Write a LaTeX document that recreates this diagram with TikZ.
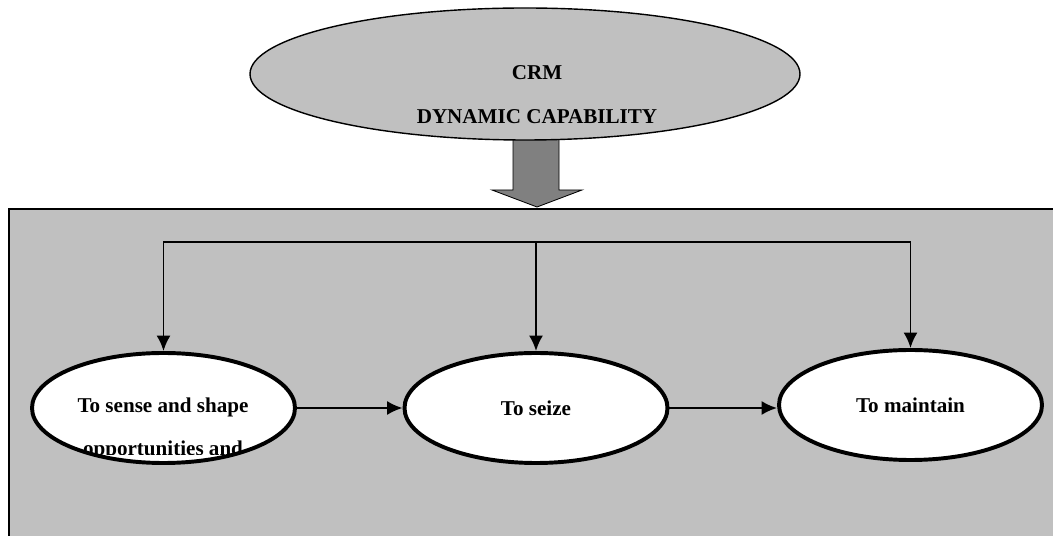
\documentclass[tikz,border=0pt]{standalone}
\usepackage{fontspec}
\setmainfont{Liberation Serif}
\usetikzlibrary{shapes.geometric,arrows.meta}
\definecolor{panel}{HTML}{C0C0C0}
\definecolor{darkpanel}{HTML}{808080}
\begin{document}
\begin{tikzpicture}[x=0.025cm,y=-0.025cm]
\def\px{0.025cm}
\def\rx{131.5}
\def\ry{55}
\tikzset{
base/.style={font=\fontsize{15}{31}\selectfont\bfseries,align=center},
bubble/.style={base,ellipse,draw,line width=2.8pt,fill=white,minimum width=2*\rx*\px,minimum height=2*\ry*\px,inner sep=0pt},
every path/.style={>={Latex[length=11pt,width=10pt]}},
link/.style={line width=1.4pt}}
\useasboundingbox (0,0) rectangle (1053,536);
\fill[panel,draw=black,line width=1pt] (9,209) rectangle (1070,560);
% block arrow under the top ellipse
\filldraw[fill=darkpanel,line width=0.6pt] (513,135) -- (559,135) -- (559,190) -- (582,190) -- (537,207) -- (492,190) -- (513,190) -- cycle;
\node[ellipse,draw,line width=1pt,fill=panel,minimum width=550*\px,minimum height=132*\px,inner sep=0pt] (crm) at (525,74) {};
\node[base] (crmtext) at (537,94.5) {CRM\\DYNAMIC CAPABILITY};
\node[bubble,draw=none] (sense) at (163.5,408) {};
\node[bubble] (seize) at (536,408) {To seize};
\node[bubble] (maintain) at (910.5,405) {To maintain};
\begin{scope}
\clip (sense.center) ellipse [x radius={\rx-1}, y radius={\ry-1}];
\clip (0,300) rectangle (400,455);
\node[base] (sensetext) at (163,429) {To sense and shape\\opportunities and};
\end{scope}
\draw[line width=2.8pt] (sense.center) ellipse [x radius={\rx}, y radius={\ry}];
\coordinate (bus) at (536,242);
\draw[link,->] (seize.north |- bus) -| (sense.north);
\draw[link,->] (seize.north |- bus) -| (maintain.north);
\draw[link,->] (bus) -- (seize.north);
\draw[link,->] (sense.east) -- (sense.east -| seize.west);
\draw[link,->] (seize.east) -- (seize.east -| maintain.west);
\end{tikzpicture}
\end{document}
